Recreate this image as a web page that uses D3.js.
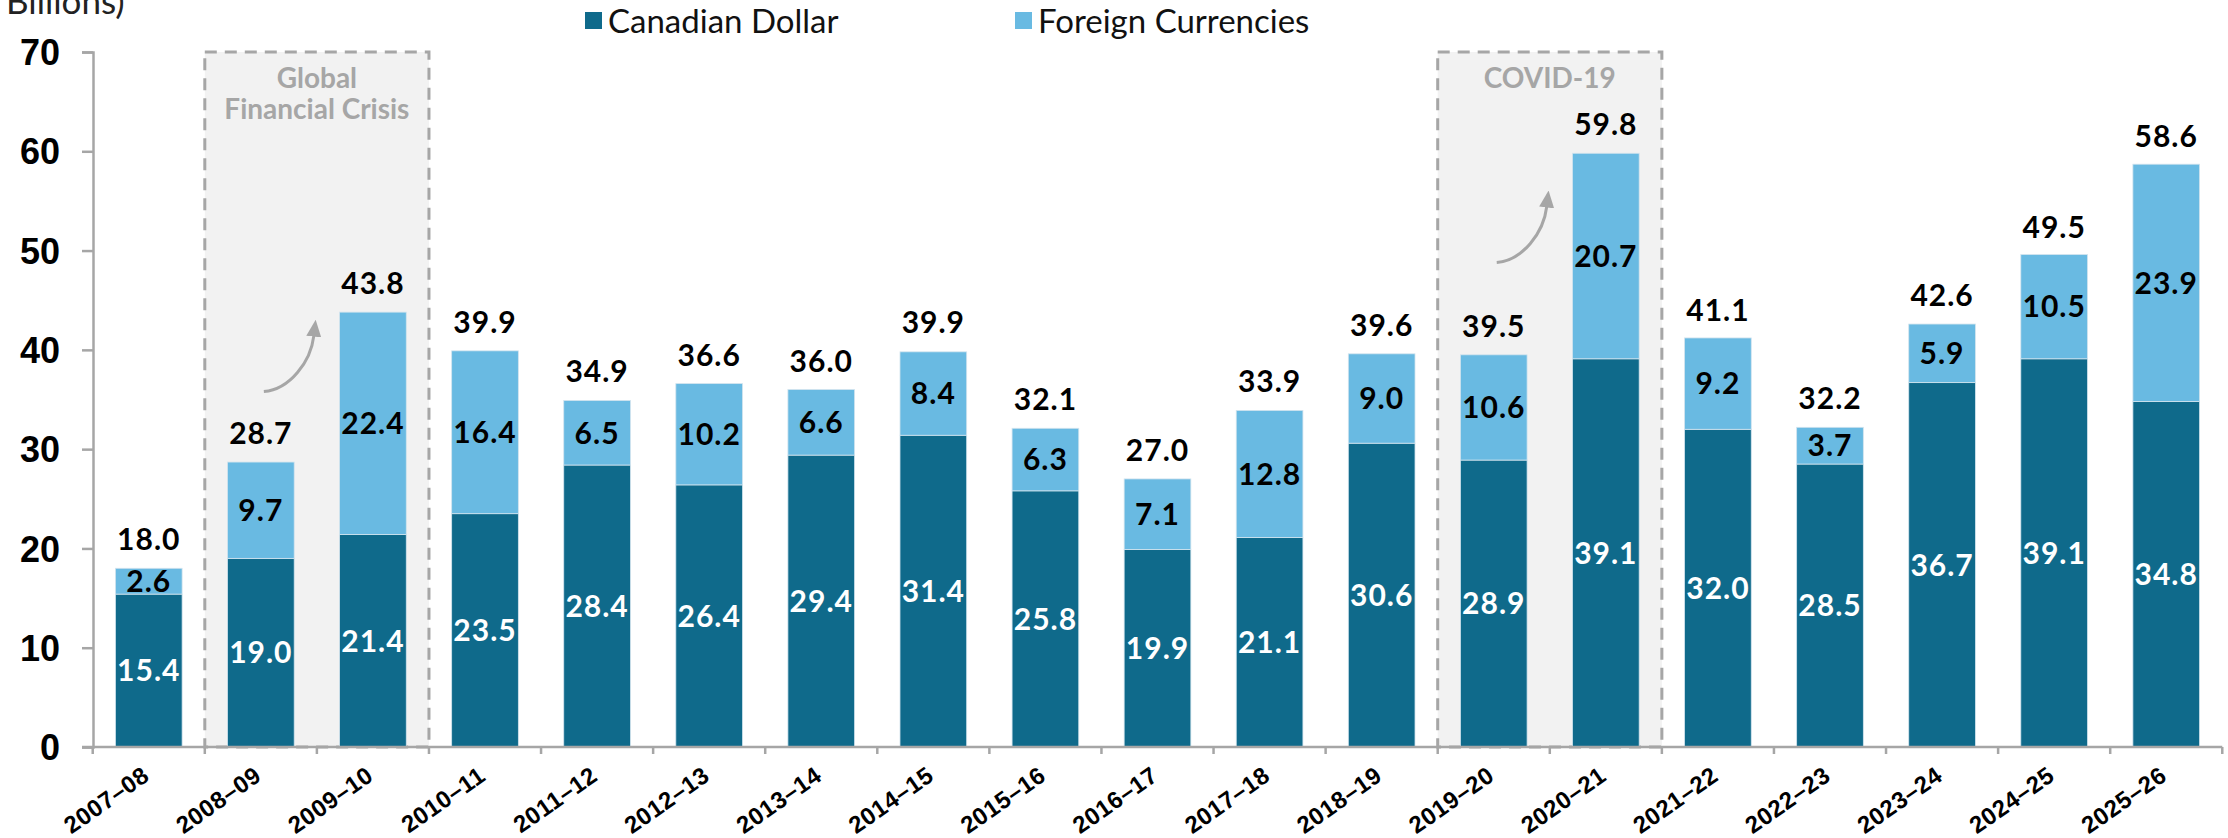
<!DOCTYPE html>
<html lang="en">
<head>
<meta charset="UTF-8">
<title>Canadian Dollar and Foreign Currencies</title>
<script src="https://cdn.jsdelivr.net/npm/d3@7"></script>
<style>
    body { margin: 0; background: #fff; }
    svg { display: block; font-family: Lato, "Open Sans", sans-serif; }
    .axis path, .axis line { stroke: #a6a6a6; stroke-width: 2.5; }
    .ylab text { font-size: 36px; font-weight: 700; fill: #000; }
    .xlab text { font-size: 24px; font-weight: 700; fill: #000; letter-spacing: 0.5px; }
    .val { font-size: 30px; font-weight: 700; text-anchor: middle; letter-spacing: 1px; }
    .event { font-size: 28px; font-weight: 700; fill: #a6a6a6; text-anchor: middle; }
    .legend text { font-size: 33px; fill: #111; }
</style>
</head>
<body>
<svg width="2228" height="838"></svg>
<script>
// data
const years = ["2007–08", "2008–09", "2009–10", "2010–11", "2011–12", "2012–13", "2013–14",
    "2014–15", "2015–16", "2016–17", "2017–18", "2018–19", "2019–20", "2020–21", "2021–22",
    "2022–23", "2023–24", "2024–25", "2025–26"];
const cad = [15.4, 19.0, 21.4, 23.5, 28.4, 26.4, 29.4, 31.4, 25.8, 19.9, 21.1, 30.6, 28.9, 39.1, 32.0, 28.5, 36.7, 39.1, 34.8];
const foreign = [2.6, 9.7, 22.4, 16.4, 6.5, 10.2, 6.6, 8.4, 6.3, 7.1, 12.8, 9.0, 10.6, 20.7, 9.2, 3.7, 5.9, 10.5, 23.9];
const totals = [18.0, 28.7, 43.8, 39.9, 34.9, 36.6, 36.0, 39.9, 32.1, 27.0, 33.9, 39.6, 39.5, 59.8, 41.1, 32.2, 42.6, 49.5, 58.6];
const yTicks = [0, 10, 20, 30, 40, 50, 60, 70];
const seriesNames = ["Canadian Dollar", "Foreign Currencies"];
const events = [
    { label: ["Global", "Financial Crisis"], from: "2008–09", to: "2009–10", arrowAt: 35.8 },
    { label: ["COVID-19"], from: "2019–20", to: "2020–21", arrowAt: 48.8 }
];

const colors = ["#0f6a8b", "#69bae2"];
const margin = { top: 52, right: 6, bottom: 91, left: 93 };
const width = 2228, height = 838;

const svg = d3.select("svg");

const x = d3.scaleBand()
    .domain(years)
    .range([margin.left, width - margin.right])
    .paddingInner(0.405)
    .paddingOuter(0.2);

const y = d3.scaleLinear()
    .domain([0, 70])
    .range([height - margin.bottom, margin.top]);

const step = x.step();
const bandStart = d => x(d) - (step - x.bandwidth()) / 2;

// shaded event boxes
const ev = svg.append("g");
events.forEach(e => {
    const x0 = bandStart(e.from), x1 = bandStart(e.to) + step;
    ev.append("rect")
        .attr("x", x0).attr("y", y(70))
        .attr("width", x1 - x0).attr("height", y(0) - y(70))
        .attr("fill", "#f2f2f2")
        .attr("stroke", "#a6a6a6")
        .attr("stroke-width", 3)
        .attr("stroke-dasharray", "12,8");
    e.label.forEach((t, i) => {
        ev.append("text").attr("class", "event")
            .attr("x", (x0 + x1) / 2)
            .attr("y", y(70) + 36 + i * 31)
            .text(t);
    });
});

// stacked bars
const rows = years.map((d, i) => ({ year: d, cad: cad[i], foreign: foreign[i], total: totals[i] }));
const stack = d3.stack().keys(["cad", "foreign"])(rows);

svg.append("g").selectAll("g")
    .data(stack)
    .join("g")
    .attr("fill", (d, i) => colors[i])
    .selectAll("rect")
    .data(d => d)
    .join("rect")
    .attr("x", d => x(d.data.year))
    .attr("y", d => y(d[1]))
    .attr("height", d => y(d[0]) - y(d[1]))
    .attr("width", x.bandwidth())
    .attr("stroke", "#d3e4ee")
    .attr("stroke-width", 0.8);

// segment labels
stack.forEach((s, k) => {
    svg.append("g").selectAll("text")
        .data(s)
        .join("text")
        .attr("class", "val")
        .attr("fill", k === 0 ? "#fff" : "#000")
        .attr("x", d => x(d.data.year) + x.bandwidth() / 2)
        .attr("y", d => y((d[0] + d[1]) / 2))
        .attr("dy", "0.36em")
        .text(d => d3.format(".1f")(d.data[s.key]));
});

// total labels
svg.append("g").selectAll("text")
    .data(rows)
    .join("text")
    .attr("class", "val")
    .attr("fill", "#000")
    .attr("x", d => x(d.year) + x.bandwidth() / 2)
    .attr("y", d => y(d.total) - 18)
    .text(d => d3.format(".1f")(d.total));

// curved arrows
svg.append("defs").append("marker")
    .attr("id", "head")
    .attr("markerUnits", "userSpaceOnUse")
    .attr("viewBox", "0 -8 17 16")
    .attr("refX", 1).attr("refY", 0)
    .attr("markerWidth", 17).attr("markerHeight", 16)
    .attr("orient", "auto")
    .append("path")
    .attr("d", "M0,-7.5L17,0L0,7.5Z")
    .attr("fill", "#a6a6a6");

events.forEach(e => {
    const sx = x(e.from) + x.bandwidth() / 2 + 3, sy = y(e.arrowAt);
    const ex = sx + 50, ey = sy - 56;
    svg.append("path")
        .attr("d", `M${sx},${sy}C${sx + 26},${sy - 2} ${ex - 3},${ey + 26} ${ex},${ey}`)
        .attr("fill", "none")
        .attr("stroke", "#a6a6a6")
        .attr("stroke-width", 3)
        .attr("marker-end", "url(#head)");
});

// y axis
svg.append("g")
    .attr("class", "axis ylab")
    .attr("transform", `translate(${margin.left},0)`)
    .call(d3.axisLeft(y).tickValues(yTicks).tickSize(11).tickPadding(22))
    .call(g => g.selectAll("text").attr("dy", "0.35em"));

// x axis: labels at band centres, ticks on band edges
const xa = svg.append("g")
    .attr("class", "axis xlab")
    .attr("transform", `translate(0,${y(0)})`)
    .call(d3.axisBottom(x).tickSize(0).tickPadding(0));
xa.select(".domain").remove();
xa.selectAll("text")
    .attr("text-anchor", "end")
    .attr("y", 0)
    .attr("dy", 0)
    .attr("transform", "translate(2,32) rotate(-35)");

const edges = years.map(d => bandStart(d)).concat([bandStart(years[years.length - 1]) + step]);
xa.selectAll(".edge")
    .data(edges)
    .join("line")
    .attr("x1", d => d).attr("x2", d => d)
    .attr("y1", 0).attr("y2", 7);
xa.append("line")
    .attr("x1", margin.left - 11).attr("x2", edges[edges.length - 1])
    .attr("y1", 0).attr("y2", 0);

// unit note, cut off at the top as in the source
svg.append("text")
    .attr("x", 6).attr("y", 14)
    .attr("font-size", 35)
    .attr("fill", "#222")
    .text("Billions)");

// legend
const legX = [585, 1015];
const lg = svg.append("g").attr("class", "legend");
seriesNames.forEach((n, i) => {
    lg.append("rect")
        .attr("x", legX[i]).attr("y", 12)
        .attr("width", 17).attr("height", 17)
        .attr("fill", colors[i]);
    lg.append("text")
        .attr("x", legX[i] + 23).attr("y", 33)
        .text(n);
});
</script>
</body>
</html>
